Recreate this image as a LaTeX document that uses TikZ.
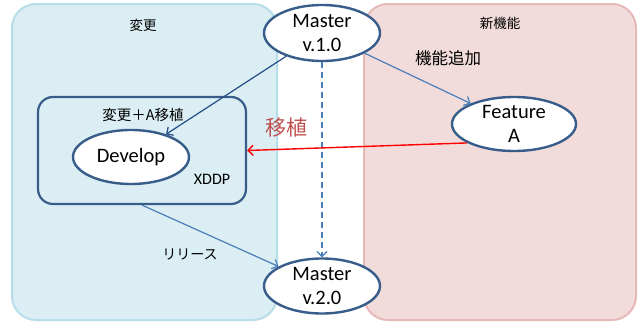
\documentclass[tikz,border=0pt]{standalone}
\usepackage{fontspec}
\setmainfont{Carlito}
\newfontfamily\jp{Noto Sans CJK JP}
\usetikzlibrary{shapes.geometric,arrows.meta}
\definecolor{panelblue}{HTML}{DAEEF3}
\definecolor{panelblueline}{HTML}{B7DDE8}
\definecolor{panelpink}{HTML}{F2DCDB}
\definecolor{panelpinkline}{HTML}{E6B9B8}
\definecolor{darkline}{HTML}{385D8A}
\definecolor{navyarrow}{HTML}{254C86}
\definecolor{lightarrow}{HTML}{4A7EBB}
\definecolor{redlabel}{HTML}{C0504D}
\begin{document}
\begin{tikzpicture}[x=1pt,y=-1pt,
  panel/.style={rounded corners=24pt,line width=2pt},
  ell/.style={ellipse,draw=darkline,line width=2.4pt,fill=white,inner sep=0pt,
    font=\fontsize{20.5}{24}\selectfont,align=center},
  tip/.style={-{Straight Barb[length=5pt,width=10pt]}},
  lab/.style={font=\jp\fontsize{13.5}{15}\selectfont,inner sep=0pt}
]
\useasboundingbox (0,0) rectangle (643,324);
\fill[white] (0,0) rectangle (643,324);
% panels
\draw[panel,fill=panelblue,draw=panelblueline] (12,4) rectangle (277,320);
\draw[panel,fill=panelpink,draw=panelpinkline] (364,4) rectangle (636,320);
\node[lab] (tchg) at (143,25) {変更};
\node[lab] (tnew) at (500,23) {新機能};
% inner box
\node[draw=darkline,line width=2.2pt,rounded corners=15pt,minimum width=208pt,minimum height=107pt,inner sep=0pt] (inner) at (142,150.5) {};
\node[lab,font=\jp\fontsize{14.5}{16}\selectfont] (tinner) at (143,115) {変更＋A移植};
\node[font=\fontsize{16}{18}\selectfont,inner sep=0pt] (xddp) at (212,179) {XDDP};
% ellipses
\node[ell,minimum width=116pt,minimum height=56pt] (m1) at (322,33) {Master\\v.1.0};
\node[ell,minimum width=116pt,minimum height=55pt] (m2) at (322,286) {Master\\v.2.0};
\node[ell,minimum width=124pt,minimum height=54pt] (fa) at (514,124) {Feature\\A};
\node[ell,minimum width=116pt,minimum height=54pt] (dev) at (131,157) {Develop};
% labels
\node[lab,font=\jp\fontsize{16.5}{18}\selectfont] (tadd) at (448,58) {機能追加};
\node[lab,font=\jp\fontsize{21}{24}\selectfont,text=redlabel] (tport) at (286,128) {移植};
\node[lab,font=\jp\fontsize{14}{16}\selectfont] (trel) at (190,254) {リリース};
% connectors
\draw[tip,navyarrow,line width=1.2pt] (m1) -- (dev);
\draw[tip,lightarrow,line width=1.2pt] (m1) -- (fa);
\draw[tip,lightarrow,line width=1.2pt,dash pattern=on 6pt off 4pt] (m1) -- (m2);
\draw[tip,red,line width=1.4pt] (fa.202) -- (inner.east);
\draw[tip,lightarrow,line width=1.2pt] (inner.south) -- (m2);
\end{tikzpicture}
\end{document}
